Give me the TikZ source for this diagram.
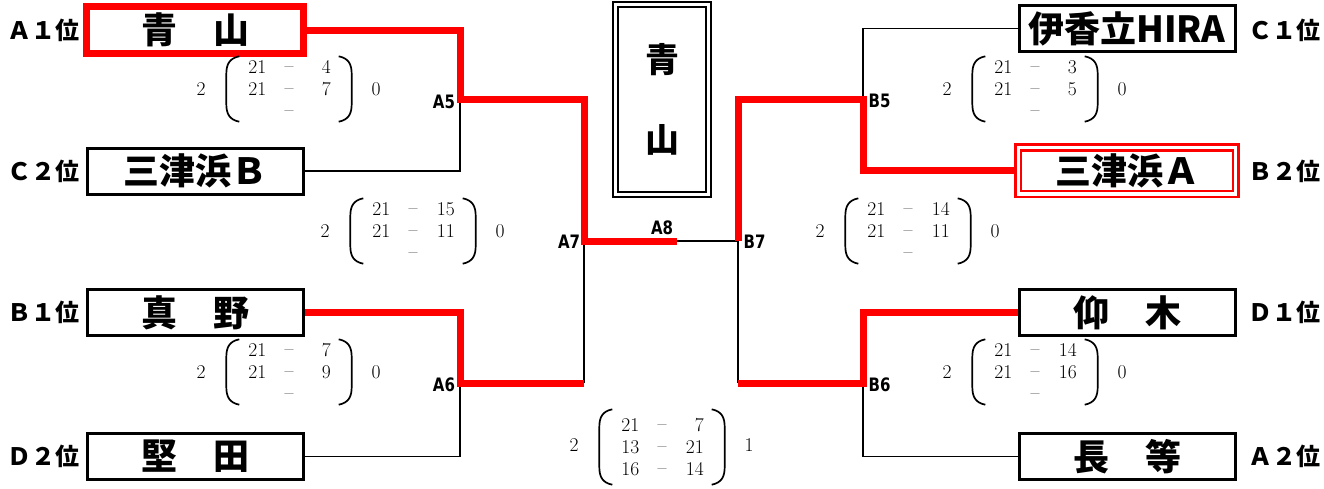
\documentclass[tikz,border=0pt]{standalone}
\usepackage{fontspec}
\newfontfamily\jpfont{Noto Sans CJK JP}
\newfontfamily\matchfont{DejaVu Sans Condensed}[FakeStretch=0.9]
\newcommand{\sline}[2]{\makebox[19pt][r]{#1}\hspace{18pt}\makebox[9.5pt]{\raisebox{1pt}{--}}\hspace{18pt}\makebox[19pt][r]{#2}}
\begin{document}
\begin{tikzpicture}[x=1pt, y=-1pt,
		team/.style={draw, line width=3pt, minimum width=216pt, minimum height=46pt, inner sep=0pt, font=\jpfont\bfseries\fontsize{36}{36}\selectfont},
		champ/.style={team, draw=red, line width=7pt, minimum width=217pt, minimum height=47pt},
		runner/.style={team, draw=red, line width=2.5pt, double=white, double distance=3.3pt, minimum width=217.6pt, minimum height=46.3pt},
		rank/.style={font=\jpfont\bfseries\fontsize{24}{24}\selectfont, inner sep=0pt},
		score/.style={font=\fontsize{19.5}{22}\selectfont, align=center, minimum width=125pt, minimum height=65pt, inner sep=0pt},
		pts/.style={font=\fontsize{19.5}{22}\selectfont, inner sep=0pt},
		mlabel/.style={font=\matchfont\bfseries\fontsize{18.5}{18.5}\selectfont, inner sep=0pt},
		win/.style={red, line width=7pt},
		lose/.style={line width=1.2pt},
		paren/.style={line width=1.7pt}]
		\useasboundingbox (0,0) rectangle (1324,488);
		
		%teams
		\node[champ] (aoyama) at (195,30) {青　山};
		\node[team] (mitsuhamaB) at (195.5,171) {三津浜Ｂ};
		\node[team] (mano) at (195.5,312.5) {真　野};
		\node[team] (katata) at (195.5,456.5) {堅　田};
		\node[team] (ikadachi) at (1127,28.5) {伊香立HIRA};
		\node[runner] (mitsuhamaA) at (1127,170.7) {三津浜Ａ};
		\node[team] (ogi) at (1127,312.5) {仰　木};
		\node[team] (nagara) at (1127,456.5) {長　等};
		
		%group ranks
		\node[rank] (rA1) at (44,30) {Ａ１位};
		\node[rank] (rC2) at (44,171) {Ｃ２位};
		\node[rank] (rB1) at (44,312.5) {Ｂ１位};
		\node[rank] (rD2) at (44,456.5) {Ｄ２位};
		\node[rank] (rC1) at (1284,30) {Ｃ１位};
		\node[rank] (rB2) at (1284,171) {Ｂ２位};
		\node[rank] (rD1) at (1284,312.5) {Ｄ１位};
		\node[rank] (rA2) at (1284,456.5) {Ａ２位};
		
		%champion
		\node[draw, line width=2.2pt, double=white, double distance=2.5pt, minimum width=93pt, minimum height=190pt, align=center, font=\jpfont\bfseries\fontsize{34}{80}\selectfont] (winner) at (662,99.5) {青\\山};
		
		%bracket
		\coordinate (a5) at (460,99);
		\coordinate (a6) at (460,383);
		\coordinate (a7) at (584,241);
		\coordinate (a8) at (677,241);
		\coordinate (b7) at (738,241);
		\coordinate (b5) at (863,99);
		\coordinate (b6) at (863,383);
		
		\draw[lose] (mitsuhamaB.east) -| (a5);
		\draw[lose] (katata.east) -| (a6);
		\draw[lose] (a6 -| a7) -- (a7);
		\draw[lose] (a8) -- (b7) -- (b6 -| b7);
		\draw[lose] (ikadachi.west) -| (b5);
		\draw[lose] (nagara.west) -| (b6);
		\draw[win] (aoyama.east) -| (a5) -| (a7) -- (a8);
		\draw[win] (mano.east) -| (a6) -- (a6 -| a7);
		\draw[win] (mitsuhamaA.west) -| (b5) -| (b7);
		\draw[win] (ogi.west) -| (b6) -- (b6 -| b7);
		
		\node[mlabel] (la5) at (444,101.5) {A5};
		\node[mlabel] (la6) at (444,384.5) {A6};
		\node[mlabel] (la7) at (569,241.5) {A7};
		\node[mlabel] (la8) at (662,228) {A8};
		\node[mlabel] (lb7) at (754.5,242) {B7};
		\node[mlabel] (lb5) at (879.5,101) {B5};
		\node[mlabel] (lb6) at (879.5,385) {B6};
		
		%scores
		\node[score] (m5) at (289,89) {\sline{21}{4}\\\sline{21}{7}\\\sline{}{}};
		\node[score] (m7) at (413,231) {\sline{21}{15}\\\sline{21}{11}\\\sline{}{}};
		\node[score] (m6) at (289,372) {\sline{21}{7}\\\sline{21}{9}\\\sline{}{}};
		\node[score, minimum height=75pt] (m8) at (662,447) {\sline{21}{7}\\\sline{13}{21}\\\sline{16}{14}};
		\node[score] (n5) at (1035,89) {\sline{21}{3}\\\sline{21}{5}\\\sline{}{}};
		\node[score] (n7) at (908,231) {\sline{21}{14}\\\sline{21}{11}\\\sline{}{}};
		\node[score] (n6) at (1035,372) {\sline{21}{14}\\\sline{21}{16}\\\sline{}{}};
		
		\foreach \m/\x/\y/\l/\r in {m5/289/89/2/0, m7/413/231/2/0, m6/289/372/2/0, m8/662/445/2/1, n5/1035/89/2/0, n7/908/231/2/0, n6/1035/372/2/0}{
			\node[pts] (\m l) at (\x-88,\y) {\l};
			\node[pts] (\m r) at (\x+87,\y) {\r};
			\draw[paren] ([xshift=13pt]\m.north west) .. controls ([xshift=3pt,yshift=-2pt]\m.north west) and ([yshift=-8pt]\m.north west) .. ([yshift=-18pt]\m.north west) -- ([yshift=18pt]\m.south west) .. controls ([yshift=8pt]\m.south west) and ([xshift=3pt,yshift=2pt]\m.south west) .. ([xshift=13pt]\m.south west);
			\draw[paren] ([xshift=-13pt]\m.north east) .. controls ([xshift=-3pt,yshift=-2pt]\m.north east) and ([yshift=-8pt]\m.north east) .. ([yshift=-18pt]\m.north east) -- ([yshift=18pt]\m.south east) .. controls ([yshift=8pt]\m.south east) and ([xshift=-3pt,yshift=2pt]\m.south east) .. ([xshift=-13pt]\m.south east);
		}
\end{tikzpicture}
\end{document}
